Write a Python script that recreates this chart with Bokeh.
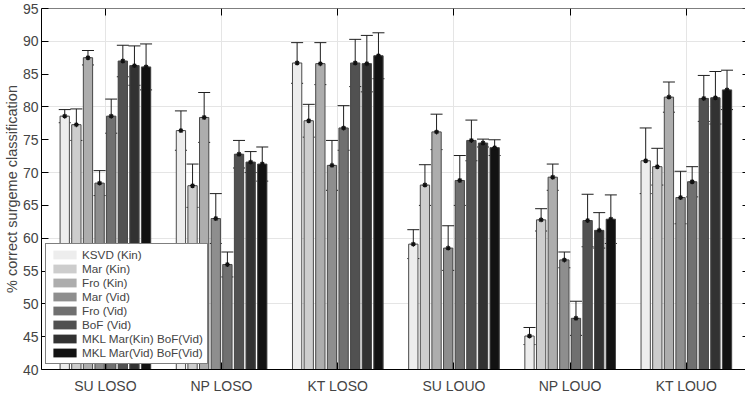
from bokeh.plotting import figure
from bokeh.models import (ColumnDataSource, Range1d, LinearAxis, FixedTicker,
                          Whisker, TeeHead, Legend, LegendItem)
from bokeh.embed import file_html
from bokeh.resources import INLINE

# ---------------- data ----------------
categories = ["SU LOSO", "NP LOSO", "KT LOSO", "SU LOUO", "NP LOUO", "KT LOUO"]
methods = ["KSVD (Kin)", "Mar (Kin)", "Fro (Kin)", "Mar (Vid)", "Fro (Vid)",
           "BoF (Vid)", "MKL Mar(Kin) BoF(Vid)", "MKL Mar(Vid) BoF(Vid)"]
colors = ["#ededed", "#cdcdcd", "#adadad", "#8e8e8e", "#707070",
          "#515151", "#323232", "#121212"]

ksvd_kin = [78.6, 76.4, 86.7, 59.1, 45.1, 71.8]
mar_kin = [77.3, 68.0, 77.9, 68.1, 62.8, 70.9]
fro_kin = [87.5, 78.4, 86.6, 76.2, 69.3, 81.5]
mar_vid = [68.4, 63.0, 71.1, 58.5, 56.7, 66.2]
fro_vid = [78.6, 56.0, 76.8, 68.8, 47.8, 68.6]
bof_vid = [87.0, 72.8, 86.7, 74.9, 62.7, 81.3]
mkl_markin_bof = [86.3, 71.6, 86.6, 74.5, 61.2, 81.4]
mkl_marvid_bof = [86.1, 71.3, 87.8, 73.8, 62.9, 82.6]

ksvd_kin_err = [1.0, 3.0, 3.1, 2.2, 1.3, 5.0]
mar_kin_err = [2.4, 3.3, 2.5, 3.1, 1.7, 2.8]
fro_kin_err = [1.1, 3.8, 3.2, 2.7, 2.0, 2.3]
mar_vid_err = [1.9, 3.8, 3.8, 3.4, 1.2, 4.0]
fro_vid_err = [2.6, 1.9, 3.4, 3.8, 2.6, 2.3]
bof_vid_err = [2.4, 2.1, 3.6, 3.1, 4.0, 3.5]
mkl_markin_bof_err = [3.0, 1.6, 4.3, 0.6, 2.7, 4.0]
mkl_marvid_bof_err = [3.5, 2.6, 3.5, 1.2, 3.7, 3.0]

y_ticks = [40, 45, 50, 55, 60, 65, 70, 75, 80, 85, 90, 95]

series = [ksvd_kin, mar_kin, fro_kin, mar_vid, fro_vid, bof_vid,
          mkl_markin_bof, mkl_marvid_bof]
errors = [ksvd_kin_err, mar_kin_err, fro_kin_err, mar_vid_err, fro_vid_err,
          bof_vid_err, mkl_markin_bof_err, mkl_marvid_bof_err]

# ---------------- figure ----------------
FONT = "Liberation Sans"
cat_pos = list(range(1, len(categories) + 1))
x_start, x_end = 0.45, 6.509
y_start, y_end = 40, 95

p = figure(width=745, height=396,
           x_range=Range1d(x_start, x_end), y_range=Range1d(y_start, y_end),
           output_backend="svg", toolbar_location=None,
           x_axis_location=None, y_axis_location=None,
           min_border_left=35, min_border_right=0,
           min_border_top=8, min_border_bottom=26,
           outline_line_color=None, background_fill_color="white")

n = len(methods)
group_w = 0.8
slot = group_w / n
legend_items = []
for j, (name, vals, errs, col) in enumerate(zip(methods, series, errors, colors)):
    xs = [c - group_w / 2 + slot * (j + 0.5) for c in cat_pos]
    src = ColumnDataSource(dict(
        x=xs, top=vals,
        upper=[v + e for v, e in zip(vals, errs)],
        lower=[v - e for v, e in zip(vals, errs)]))
    # swatch renderer for the legend (hidden under the real bars)
    lr = p.vbar(x="x", top="top", bottom=0, width=slot * 0.8, source=src,
                fill_color=col, line_color=None)
    legend_items.append(LegendItem(label=name, renderers=[lr]))
    p.vbar(x="x", top="top", bottom=0, width=slot * 0.8, source=src,
           fill_color=col, line_color="#4a4a4a", line_width=1)
    w = Whisker(source=src, base="x", upper="upper", lower="lower",
                dimension="height", line_color="#1e1e1e", line_width=1,
                upper_head=TeeHead(size=12, line_color="#1e1e1e", line_width=1),
                lower_head=TeeHead(size=12, line_color="#1e1e1e", line_width=1))
    p.add_layout(w)
    p.scatter(x="x", y="top", source=src, marker="asterisk", size=5,
              line_color="#111111", line_width=1.2)

# ---------------- axes ----------------
left = LinearAxis(ticker=FixedTicker(ticks=y_ticks),
                  axis_label="% correct surgeme classification",
                  axis_label_text_font=FONT, axis_label_text_font_size="14.5px",
                  axis_label_text_font_style="normal",
                  axis_label_standoff=0,
                  major_label_text_font=FONT, major_label_text_font_size="14px",
                  major_label_standoff=3,
                  major_tick_in=7, major_tick_out=0, minor_tick_out=0,
                  minor_tick_in=0, axis_line_color="black",
                  major_tick_line_color="black")
p.add_layout(left, "left")

bottom = LinearAxis(ticker=FixedTicker(ticks=cat_pos),
                    major_label_overrides={c: lab for c, lab in zip(cat_pos, categories)},
                    major_label_text_font=FONT, major_label_text_font_size="14px",
                    major_label_standoff=8,
                    major_tick_in=7, major_tick_out=0, minor_tick_in=0,
                    minor_tick_out=0, axis_line_color="black")
p.add_layout(bottom, "below")

top = LinearAxis(ticker=FixedTicker(ticks=cat_pos), fixed_location=y_end,
                 major_label_text_alpha=0, major_label_standoff=0,
                 major_tick_in=7, major_tick_out=0, minor_tick_in=0,
                 minor_tick_out=0, axis_line_color="black")
p.add_layout(top, "above")

right = LinearAxis(ticker=FixedTicker(ticks=y_ticks), fixed_location=x_end,
                   major_label_text_alpha=0, major_label_standoff=0,
                   major_tick_in=3, major_tick_out=0, minor_tick_in=0,
                   minor_tick_out=0, axis_line_color=None)
p.add_layout(right, "right")

# ---------------- legend ----------------
legend = Legend(items=legend_items, location=(4, 5),
                label_text_font=FONT, label_text_font_size="11.7px",
                glyph_width=29, glyph_height=11, label_height=11,
                label_standoff=3, spacing=1, padding=4, margin=0,
                border_line_color="black", border_line_width=1,
                background_fill_color="white", background_fill_alpha=1)
p.add_layout(legend, "center")

open("out.html", "w").write(file_html(p, INLINE))
